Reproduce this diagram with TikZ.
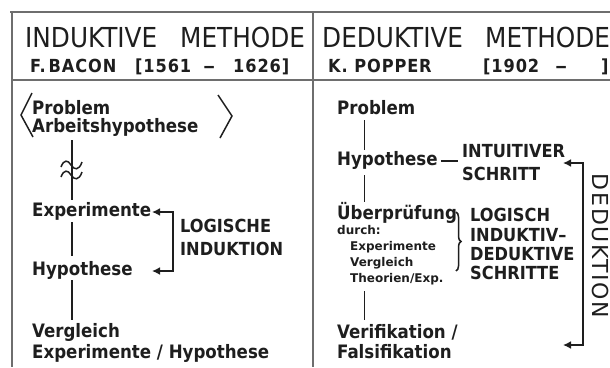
\documentclass[tikz,border=0pt]{standalone}
\usepackage{fontspec}
\setmainfont{DejaVu Sans}
\newfontfamily\hdf{DejaVu Sans Condensed}
\newfontfamily\capf{DejaVu Sans Condensed}
\newfontfamily\bodyf{DejaVu Sans Condensed}
\newfontfamily\smallf{DejaVu Sans}
\newfontfamily\subf{DejaVu Sans Condensed}[LetterSpace=5]
\newfontfamily\dedf{DejaVu Sans}[LetterSpace=8]
\usetikzlibrary{arrows.meta,decorations.pathreplacing}
\definecolor{ink}{HTML}{1E1E1E}
\definecolor{framegray}{HTML}{6E6E6E}
\tikzset{
  body/.style={font=\bodyf\bfseries\fontsize{18.5}{20}\selectfont, inner sep=0pt, text height=12pt, text depth=4pt, anchor=base west, text=ink},
  caps/.style={font=\capf\bfseries\fontsize{18}{20}\selectfont, inner sep=0pt, anchor=base west, text=ink},
  small/.style={font=\smallf\bfseries\fontsize{12}{13}\selectfont, inner sep=0pt, text height=9pt, text depth=3pt, anchor=base west, text=ink},
  head/.style={font=\hdf\fontsize{27.5}{30}\selectfont, inner sep=0pt, anchor=base west, text=ink},
  subh/.style={font=\subf\bfseries\fontsize{18}{20}\selectfont, inner sep=0pt, anchor=base west, text=ink},
  conn/.style={line width=1.8pt, draw=ink},
  framel/.style={line width=1.6pt, draw=framegray},
  arr/.style={conn, {Latex[length=8pt,width=8pt]}-{Latex[length=8pt,width=8pt]}},
}
\begin{document}
\begin{tikzpicture}[x=1pt,y=-1pt]
\useasboundingbox (0,0) rectangle (610,367);
% frame
\draw[framel] (10,12) -- (610,12);
\draw[framel] (12,80) -- (610,80);
\draw[framel] (12,11) -- (12,367);
\draw[framel] (313,12) -- (313,367);
% headers
\node[head] (h1a) at (25,47) {INDUKTIVE};
\node[head] (h1b) at (180,47) {METHODE};
\node[head] (h2a) at (322,47) {DEDUKTIVE};
\node[head] (h2b) at (485,47) {METHODE};
\node[subh] (s1a) at (30,72) {F.\,BACON};
\node[subh] (s1b) at (135,72) {[1561};
\node[subh] (s1c) at (203,72) {\scalebox{1.5}[1]{–}};
\node[subh] (s1d) at (233,72) {1626]};
\node[subh] (s2a) at (328,72) {K.~POPPER};
\node[subh] (s2b) at (483,72) {[1902};
\node[subh] (s2c) at (555,72) {\scalebox{1.5}[1]{–}};
\node[subh] (s2d) at (601,72) {]};
% left panel
\coordinate (LX) at (72,0);
\node[body] (lProb) at (32,114) {Problem};
\node[body] (lArb) at (32,132) {Arbeitshypothese};
\node[body] (lExp) at (32,216) {Experimente};
\node[body] (lHyp) at (32,275) {Hypothese};
\node[body] (lVer) at (32,337) {Vergleich};
\node[body] (lEH) at (32,358) {Experimente / Hypothese};
\node[caps] (lLog) at (180,232) {LOGISCHE};
\node[caps] (lInd) at (180,255) {INDUKTION};
\draw[conn, line width=1.5pt] (32,93) -- (21,115) -- (33,137);
\draw[conn, line width=1.5pt] (218,95) -- (232,116) -- (220,138);
\draw[conn] ([yshift=-4pt]lArb.south -| LX) -- ([yshift=4pt]lExp.north -| LX);
\draw[conn, line width=1.5pt] (61,167) .. controls (64,159) and (68,160) .. (71,165) .. controls (74,170) and (79,171) .. (82,162);
\draw[conn, line width=1.5pt] (61,177) .. controls (64,169) and (68,170) .. (71,175) .. controls (74,180) and (79,181) .. (82,172);
\draw[conn] ([yshift=-2pt]lExp.south -| LX) -- ([yshift=7pt]lHyp.north -| LX);
\draw[conn] ([yshift=-1pt]lHyp.south -| LX) -- ([yshift=5pt]lVer.north -| LX);
\coordinate (LIX) at (152,0);
\coordinate (LIB) at (173,0);
\draw[arr] (lExp.east -| LIX) -- (lExp.east -| LIB) -- (lHyp.east -| LIB) -- (lHyp.east -| LIX);
% right panel
\coordinate (RX) at (364.5,0);
\node[body] (rProb) at (337,114) {Problem};
\node[body] (rHyp) at (337,165) {Hypothese};
\node[body] (rUeb) at (337,219) {Überprüfung};
\node[small] (rDurch) at (337,234) {durch:};
\node[small] (rSExp) at (350,250) {Experimente};
\node[small] (rSVer) at (350,266) {Vergleich};
\node[small] (rSThe) at (350,282) {Theorien/Exp.};
\node[body] (rVf) at (337,338) {Verifikation /};
\node[body] (rFs) at (337,358) {Falsifikation};
\node[caps] (rInt) at (462,157) {INTUITIVER};
\node[caps] (rSch) at (462,180) {SCHRITT};
\node[caps] (rLog) at (470,221) {LOGISCH};
\node[caps] (rIndv) at (470,241) {INDUKTIV–};
\node[caps] (rDed) at (470,260) {DEDUKTIVE};
\node[caps] (rSch2) at (470,279) {SCHRITTE};
\draw[conn] ([yshift=-2pt]rProb.south -| RX) -- ([yshift=3pt]rHyp.north -| RX);
\draw[conn] ([xshift=3pt]rHyp.east) -- ([xshift=-4pt]rInt.west |- rHyp.east);
\draw[conn] ([yshift=-6pt]rHyp.south -| RX) -- ([yshift=5pt]rUeb.north -| RX);
\draw[conn] ([yshift=-6pt]rSThe.south -| RX) -- ([yshift=6pt]rVf.north -| RX);
\coordinate (bTop) at (456,212);
\coordinate (bBot) at (456,271);
\draw[conn, line width=1.5pt, decorate, decoration={brace, amplitude=5pt}] (bTop) -- (bBot);
\node[font=\dedf\fontsize{22}{24}\selectfont, rotate=-90, inner sep=0pt, text=ink] (ded) at (600,246) {DEDUKTION};
\coordinate (dTipT) at (563,163);
\coordinate (dTop) at (583,163);
\coordinate (dBot) at (583,345);
\coordinate (dTipB) at (563,345);
\draw[arr] (dTipT) -- (dTop) -- (dBot) -- (dTipB);
\end{tikzpicture}
\end{document}
